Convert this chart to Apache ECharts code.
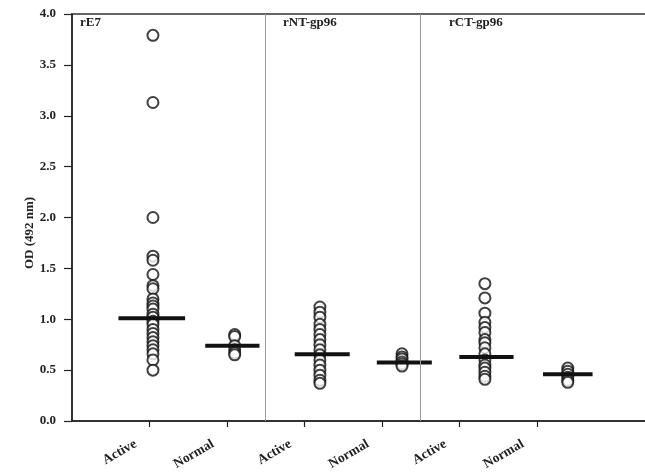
<!DOCTYPE html>
<html><head><meta charset="utf-8">
<script src="https://cdn.jsdelivr.net/npm/echarts@6/dist/echarts.min.js"></script>
<style>html,body{margin:0;padding:0;background:#fff}#c{width:645px;height:474px}</style>
</head><body><div id="c"></div>
<script>
// ---- data ----
const panels = ['rE7', 'rNT-gp96', 'rCT-gp96'];
const tickLabels = ['Active', 'Normal', 'Active', 'Normal', 'Active', 'Normal'];
const rE7Active = [3.79, 3.13, 2.00, 1.62, 1.58, 1.44, 1.33, 1.30, 1.20, 1.16, 1.13, 1.10, 1.05, 1.02, 0.98, 0.95, 0.90, 0.86, 0.82, 0.78, 0.74, 0.70, 0.66, 0.60, 0.50];
const rE7Normal = [0.85, 0.83, 0.74, 0.70, 0.67, 0.65];
const rNTActive = [1.12, 1.07, 1.02, 0.95, 0.90, 0.85, 0.80, 0.75, 0.70, 0.65, 0.60, 0.55, 0.50, 0.45, 0.40, 0.37];
const rNTNormal = [0.66, 0.63, 0.61, 0.58, 0.56, 0.54];
const rCTActive = [1.35, 1.21, 1.06, 0.97, 0.92, 0.87, 0.80, 0.77, 0.72, 0.66, 0.60, 0.55, 0.52, 0.48, 0.44, 0.41];
const rCTNormal = [0.52, 0.49, 0.46, 0.43, 0.40, 0.38];
const means = [1.01, 0.74, 0.655, 0.575, 0.63, 0.46];
const yTicks = [0, 0.5, 1.0, 1.5, 2.0, 2.5, 3.0, 3.5, 4.0];

// ---- layout (not data) ----
const groups = [rE7Active, rE7Normal, rNTActive, rNTNormal, rCTActive, rCTNormal];
const groupX = [1.045, 2.10, 3.20, 4.26, 5.33, 6.40];
const barX = [1.03, 2.07, 3.23, 4.29, 5.35, 6.40];
const barHalf = [0.43, 0.35, 0.355, 0.355, 0.35, 0.32];
const separators = [2.5, 4.49];
const serif = '"Liberation Serif", "Times New Roman", serif';

const series = [];
groups.forEach((g, i) => {
  series.push({
    type: 'scatter', symbol: 'emptyCircle', symbolSize: 11,
    itemStyle: { color: '#111', borderWidth: 1.3, borderColor: '#111' },
    data: g.map(v => [groupX[i], v]), z: 3, silent: true
  });
});
means.forEach((m, i) => {
  series.push({
    type: 'line', symbol: 'none', z: 4, silent: true,
    lineStyle: { color: '#111', width: 4 },
    data: [[barX[i] - barHalf[i], m], [barX[i] + barHalf[i], m]]
  });
});
series.push({
  type: 'line', data: [], silent: true,
  markLine: {
    symbol: 'none', silent: true, label: { show: false },
    lineStyle: { color: '#9a9a9a', width: 1, type: 'solid' },
    data: separators.map(s => ({ xAxis: s }))
  }
});

const chart = echarts.init(document.getElementById('c'), null, { renderer: 'canvas' });
chart.setOption({
  animation: false,
  backgroundColor: '#fff',
  grid: { left: 72, right: -8, top: 14, bottom: 53, outerBoundsMode: 'none', containLabel: false, show: true, borderColor: '#333', borderWidth: 1.5, backgroundColor: 'transparent' },
  xAxis: {
    type: 'value', min: 0, max: 7.5, interval: 0.5,
    splitLine: { show: false },
    axisLine: { lineStyle: { color: '#222', width: 1.5 } },
    axisTick: { customValues: [1, 2, 3, 4, 5, 6], length: 6, lineStyle: { color: '#222', width: 1.2 } },
    axisLabel: {
      customValues: [1, 2, 3, 4, 5, 6], rotate: 30, margin: 14,
      formatter: v => tickLabels[Math.round(v) - 1] || '',
      fontFamily: serif, fontWeight: 'bold', fontSize: 13.5, color: '#222',
      padding: [0, 16, 0, 0]
    }
  },
  yAxis: {
    type: 'value', min: 0, max: 4, interval: 0.5,
    splitLine: { show: false },
    axisLine: { show: true, lineStyle: { color: '#222', width: 1.5 } },
    axisTick: { show: true, length: 8, lineStyle: { color: '#222', width: 1.2 } },
    axisLabel: { formatter: v => v.toFixed(1), margin: 16, fontFamily: serif, fontWeight: 'bold', fontSize: 13, color: '#222' }
  },
  graphic: [
    { type: 'text', left: 80, top: 16, style: { text: panels[0], font: 'bold 13px ' + serif, fill: '#222' } },
    { type: 'text', left: 283, top: 16, style: { text: panels[1], font: 'bold 13px ' + serif, fill: '#222' } },
    { type: 'text', left: 449, top: 16, style: { text: panels[2], font: 'bold 13px ' + serif, fill: '#222' } },
    { type: 'text', x: 30, y: 233, rotation: Math.PI / 2, style: { text: 'OD (492 nm)', font: 'bold 13px ' + serif, fill: '#222', align: 'center', verticalAlign: 'middle' } }
  ],
  series: series
});
</script></body></html>
